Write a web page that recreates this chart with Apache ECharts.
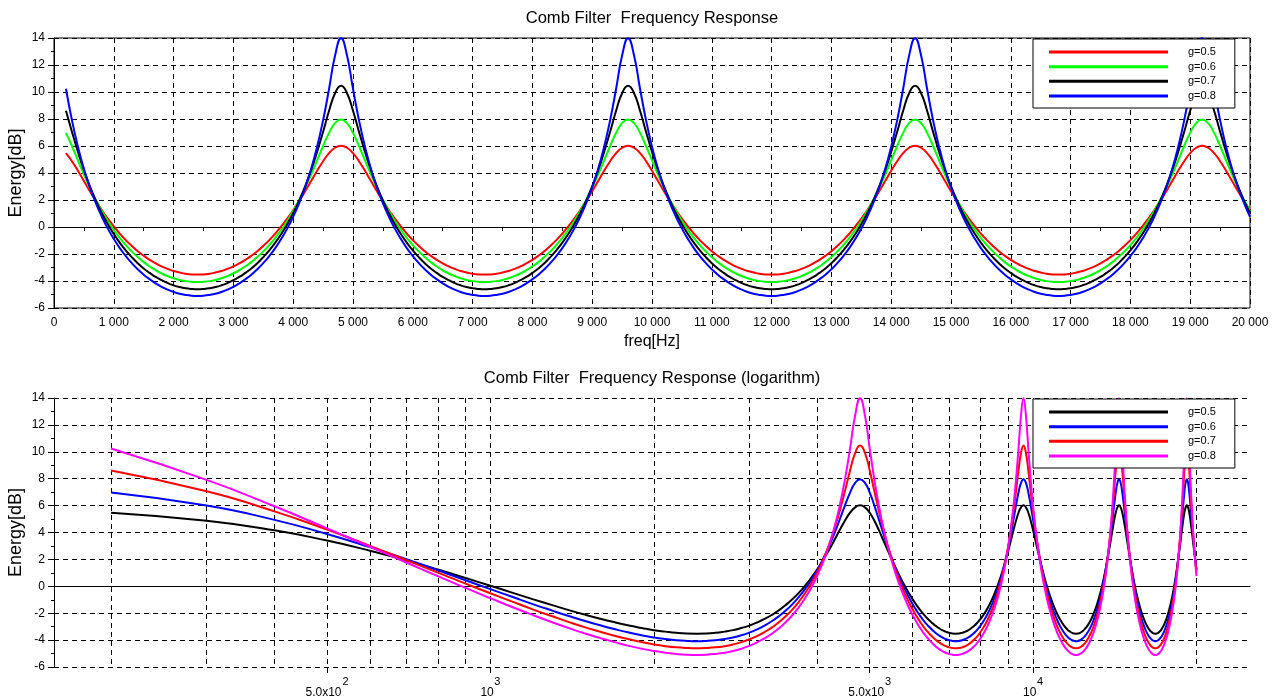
<!DOCTYPE html>
<html>
<head>
<meta charset="utf-8">
<script src="https://cdn.jsdelivr.net/npm/echarts@6.0.0/dist/echarts.min.js"></script>
<style>html,body{margin:0;padding:0;background:#fff}#c{width:1280px;height:696px}</style>
</head>
<body>
<div id="c"></div>
<script>
// ---------- data ----------
const freqs = [
  200,300,400,500,600,700,800,900,1000,1100,
  1200,1300,1400,1500,1600,1700,1800,1900,2000,2100,
  2200,2300,2400,2500,2600,2700,2800,2900,3000,3100,
  3200,3300,3400,3500,3600,3700,3800,3900,4000,4100,
  4200,4300,4400,4500,4600,4700,4800,4900,5000,5100,
  5200,5300,5400,5500,5600,5700,5800,5900,6000,6100,
  6200,6300,6400,6500,6600,6700,6800,6900,7000,7100,
  7200,7300,7400,7500,7600,7700,7800,7900,8000,8100,
  8200,8300,8400,8500,8600,8700,8800,8900,9000,9100,
  9200,9300,9400,9500,9600,9700,9800,9900,10000,10100,
  10200,10300,10400,10500,10600,10700,10800,10900,11000,11100,
  11200,11300,11400,11500,11600,11700,11800,11900,12000,12100,
  12200,12300,12400,12500,12600,12700,12800,12900,13000,13100,
  13200,13300,13400,13500,13600,13700,13800,13900,14000,14100,
  14200,14300,14400,14500,14600,14700,14800,14900,15000,15100,
  15200,15300,15400,15500,15600,15700,15800,15900,16000,16100,
  16200,16300,16400,16500,16600,16700,16800,16900,17000,17100,
  17200,17300,17400,17500,17600,17700,17800,17900,18000,18100,
  18200,18300,18400,18500,18600,18700,18800,18900,19000,19100,
  19200,19300,19400,19500,19600,19700,19800,19900,20000
];

const g05 = [
  5.47,4.87,4.16,3.40,2.65,1.93,1.25,0.62,0.04,-0.49,-0.97,-1.40,-1.79,-2.13,-2.43,-2.69,-2.92,-3.10,-3.26,-3.37,-3.46,-3.51,-3.52,
  -3.51,-3.46,-3.37,-3.26,-3.10,-2.92,-2.69,-2.43,-2.13,-1.79,-1.40,-0.97,-0.49,0.04,0.62,1.25,1.93,2.65,3.40,4.16,4.87,5.47,5.87,6.02,
  5.87,5.47,4.87,4.16,3.40,2.65,1.93,1.25,0.62,0.04,-0.49,-0.97,-1.40,-1.79,-2.13,-2.43,-2.69,-2.92,-3.10,-3.26,-3.37,-3.46,-3.51,-3.52,
  -3.51,-3.46,-3.37,-3.26,-3.10,-2.92,-2.69,-2.43,-2.13,-1.79,-1.40,-0.97,-0.49,0.04,0.62,1.25,1.93,2.65,3.40,4.16,4.87,5.47,5.87,6.02,
  5.87,5.47,4.87,4.16,3.40,2.65,1.93,1.25,0.62,0.04,-0.49,-0.97,-1.40,-1.79,-2.13,-2.43,-2.69,-2.92,-3.10,-3.26,-3.37,-3.46,-3.51,-3.52,
  -3.51,-3.46,-3.37,-3.26,-3.10,-2.92,-2.69,-2.43,-2.13,-1.79,-1.40,-0.97,-0.49,0.04,0.62,1.25,1.93,2.65,3.40,4.16,4.87,5.47,5.87,6.02,
  5.87,5.47,4.87,4.16,3.40,2.65,1.93,1.25,0.62,0.04,-0.49,-0.97,-1.40,-1.79,-2.13,-2.43,-2.69,-2.92,-3.10,-3.26,-3.37,-3.46,-3.51,-3.52,
  -3.51,-3.46,-3.37,-3.26,-3.10,-2.92,-2.69,-2.43,-2.13,-1.79,-1.40,-0.97,-0.49,0.04,0.62,1.25,1.93,2.65,3.40,4.16,4.87,5.47,5.87,6.02,
  5.87,5.47,4.87,4.16,3.40,2.65,1.93,1.25
];

const g06 = [
  6.97,6.00,4.94,3.89,2.91,2.01,1.19,0.45,-0.21,-0.80,-1.34,-1.81,-2.23,-2.60,-2.92,-3.20,-3.44,-3.64,-3.80,-3.92,-4.01,-4.06,-4.08,
  -4.06,-4.01,-3.92,-3.80,-3.64,-3.44,-3.20,-2.92,-2.60,-2.23,-1.81,-1.34,-0.80,-0.21,0.45,1.19,2.01,2.91,3.89,4.94,6.00,6.97,7.69,7.96,
  7.69,6.97,6.00,4.94,3.89,2.91,2.01,1.19,0.45,-0.21,-0.80,-1.34,-1.81,-2.23,-2.60,-2.92,-3.20,-3.44,-3.64,-3.80,-3.92,-4.01,-4.06,-4.08,
  -4.06,-4.01,-3.92,-3.80,-3.64,-3.44,-3.20,-2.92,-2.60,-2.23,-1.81,-1.34,-0.80,-0.21,0.45,1.19,2.01,2.91,3.89,4.94,6.00,6.97,7.69,7.96,
  7.69,6.97,6.00,4.94,3.89,2.91,2.01,1.19,0.45,-0.21,-0.80,-1.34,-1.81,-2.23,-2.60,-2.92,-3.20,-3.44,-3.64,-3.80,-3.92,-4.01,-4.06,-4.08,
  -4.06,-4.01,-3.92,-3.80,-3.64,-3.44,-3.20,-2.92,-2.60,-2.23,-1.81,-1.34,-0.80,-0.21,0.45,1.19,2.01,2.91,3.89,4.94,6.00,6.97,7.69,7.96,
  7.69,6.97,6.00,4.94,3.89,2.91,2.01,1.19,0.45,-0.21,-0.80,-1.34,-1.81,-2.23,-2.60,-2.92,-3.20,-3.44,-3.64,-3.80,-3.92,-4.01,-4.06,-4.08,
  -4.06,-4.01,-3.92,-3.80,-3.64,-3.44,-3.20,-2.92,-2.60,-2.23,-1.81,-1.34,-0.80,-0.21,0.45,1.19,2.01,2.91,3.89,4.94,6.00,6.97,7.69,7.96,
  7.69,6.97,6.00,4.94,3.89,2.91,2.01,1.19
];

const g07 = [
  8.61,7.06,5.57,4.21,3.01,1.95,1.02,0.20,-0.52,-1.16,-1.73,-2.23,-2.68,-3.07,-3.40,-3.70,-3.94,-4.15,-4.32,-4.45,-4.54,-4.59,-4.61,
  -4.59,-4.54,-4.45,-4.32,-4.15,-3.94,-3.70,-3.40,-3.07,-2.68,-2.23,-1.73,-1.16,-0.52,0.20,1.02,1.95,3.01,4.21,5.57,7.06,8.61,9.91,10.46,
  9.91,8.61,7.06,5.57,4.21,3.01,1.95,1.02,0.20,-0.52,-1.16,-1.73,-2.23,-2.68,-3.07,-3.40,-3.70,-3.94,-4.15,-4.32,-4.45,-4.54,-4.59,-4.61,
  -4.59,-4.54,-4.45,-4.32,-4.15,-3.94,-3.70,-3.40,-3.07,-2.68,-2.23,-1.73,-1.16,-0.52,0.20,1.02,1.95,3.01,4.21,5.57,7.06,8.61,9.91,10.46,
  9.91,8.61,7.06,5.57,4.21,3.01,1.95,1.02,0.20,-0.52,-1.16,-1.73,-2.23,-2.68,-3.07,-3.40,-3.70,-3.94,-4.15,-4.32,-4.45,-4.54,-4.59,-4.61,
  -4.59,-4.54,-4.45,-4.32,-4.15,-3.94,-3.70,-3.40,-3.07,-2.68,-2.23,-1.73,-1.16,-0.52,0.20,1.02,1.95,3.01,4.21,5.57,7.06,8.61,9.91,10.46,
  9.91,8.61,7.06,5.57,4.21,3.01,1.95,1.02,0.20,-0.52,-1.16,-1.73,-2.23,-2.68,-3.07,-3.40,-3.70,-3.94,-4.15,-4.32,-4.45,-4.54,-4.59,-4.61,
  -4.59,-4.54,-4.45,-4.32,-4.15,-3.94,-3.70,-3.40,-3.07,-2.68,-2.23,-1.73,-1.16,-0.52,0.20,1.02,1.95,3.01,4.21,5.57,7.06,8.61,9.91,10.46,
  9.91,8.61,7.06,5.57,4.21,3.01,1.95,1.02
];

const g08 = [
  10.24,7.91,5.95,4.31,2.94,1.77,0.76,-0.12,-0.88,-1.56,-2.15,-2.67,-3.13,-3.53,-3.87,-4.17,-4.43,-4.64,-4.81,-4.94,-5.03,-5.09,-5.11,
  -5.09,-5.03,-4.94,-4.81,-4.64,-4.43,-4.17,-3.87,-3.53,-3.13,-2.67,-2.15,-1.56,-0.88,-0.12,0.76,1.77,2.94,4.31,5.95,7.91,10.24,12.70,13.98,
  12.70,10.24,7.91,5.95,4.31,2.94,1.77,0.76,-0.12,-0.88,-1.56,-2.15,-2.67,-3.13,-3.53,-3.87,-4.17,-4.43,-4.64,-4.81,-4.94,-5.03,-5.09,-5.11,
  -5.09,-5.03,-4.94,-4.81,-4.64,-4.43,-4.17,-3.87,-3.53,-3.13,-2.67,-2.15,-1.56,-0.88,-0.12,0.76,1.77,2.94,4.31,5.95,7.91,10.24,12.70,13.98,
  12.70,10.24,7.91,5.95,4.31,2.94,1.77,0.76,-0.12,-0.88,-1.56,-2.15,-2.67,-3.13,-3.53,-3.87,-4.17,-4.43,-4.64,-4.81,-4.94,-5.03,-5.09,-5.11,
  -5.09,-5.03,-4.94,-4.81,-4.64,-4.43,-4.17,-3.87,-3.53,-3.13,-2.67,-2.15,-1.56,-0.88,-0.12,0.76,1.77,2.94,4.31,5.95,7.91,10.24,12.70,13.98,
  12.70,10.24,7.91,5.95,4.31,2.94,1.77,0.76,-0.12,-0.88,-1.56,-2.15,-2.67,-3.13,-3.53,-3.87,-4.17,-4.43,-4.64,-4.81,-4.94,-5.03,-5.09,-5.11,
  -5.09,-5.03,-4.94,-4.81,-4.64,-4.43,-4.17,-3.87,-3.53,-3.13,-2.67,-2.15,-1.56,-0.88,-0.12,0.76,1.77,2.94,4.31,5.95,7.91,10.24,12.70,13.98,
  12.70,10.24,7.91,5.95,4.31,2.94,1.77,0.76
];

const seriesNames = ['g=0.5', 'g=0.6', 'g=0.7', 'g=0.8'];
const linearColors = ['#ff0000', '#00ff00', '#000000', '#0000ff'];
const logColors = ['#000000', '#0000ff', '#ff0000', '#ff00ff'];

const titles = ['Comb Filter  Frequency Response', 'Comb Filter  Frequency Response (logarithm)'];
const xName = 'freq[Hz]';
const yName = 'Energy[dB]';

// tick values
const logGridValues = [200,300,400,500,600,700,800,900,1000,2000,3000,4000,5000,6000,7000,8000,9000,10000,20000];
const logLabelValues = [500, 1000, 5000, 10000];
const logLabelMantissa = ['5.0x10', '10', '5.0x10', '10'];
const logLabelExponent = ['2', '3', '3', '4'];

// ---------- chart ----------
const FONT = "'Liberation Sans', Arial, Helvetica, sans-serif";
const valueLists = [g05, g06, g07, g08];
const toPairs = vals => freqs.map((f, i) => [f, vals[i]]);
const dash = { color: '#000', width: 1, type: [5, 4] };
const axisLineStyle = { lineStyle: { color: '#000', width: 1 } };
const labelStyle = { color: '#000', fontSize: 12, fontFamily: FONT };

function yAxisCfg(gridIndex) {
  return {
    gridIndex, type: 'value', min: -6, max: 14, interval: 2,
    name: yName, nameLocation: 'middle', nameGap: 29, nameRotate: 90, nameMoveOverlap: false,
    nameTextStyle: { fontSize: 18, color: '#000', fontFamily: FONT },
    axisLine: { show: true, lineStyle: { color: '#000', width: 1 } },
    axisTick: { show: true, length: 6, lineStyle: { color: '#000' } },
    minorTick: { show: true, splitNumber: 2, length: 3, lineStyle: { color: '#000' } },
    axisLabel: Object.assign({ margin: 9 }, labelStyle),
    splitLine: { show: true, lineStyle: dash }
  };
}

function logLabelFormatter(v) {
  const idx = logLabelValues.findIndex(t => Math.abs(t - v) / t < 1e-6);
  if (idx < 0) return '';
  const wide = logLabelMantissa[idx].length > 2;
  return '{' + (wide ? 'ew' : 'en') + '|' + logLabelExponent[idx] + '}\n{' +
         (wide ? 'mw' : 'mn') + '|' + logLabelMantissa[idx] + '}';
}

const series = [];
valueLists.forEach((vals, i) => {
  series.push({
    type: 'line', name: seriesNames[i], xAxisIndex: 0, yAxisIndex: 0,
    data: toPairs(vals), showSymbol: false, smooth: true,
    lineStyle: { width: 2, color: linearColors[i] }, itemStyle: { color: linearColors[i] },
    emphasis: { disabled: true }
  });
});
valueLists.forEach((vals, i) => {
  series.push({
    type: 'line', name: 'log:' + seriesNames[i], xAxisIndex: 1, yAxisIndex: 1,
    data: toPairs(vals), showSymbol: false, smooth: true,
    lineStyle: { width: 2, color: logColors[i] }, itemStyle: { color: logColors[i] },
    emphasis: { disabled: true }
  });
});

const legendBase = {
  orient: 'vertical', left: 1033, icon: 'rect', itemWidth: 119, itemHeight: 3, itemGap: 0.67,
  padding: [6, 19, 5, 16], borderColor: '#000', borderWidth: 1, backgroundColor: '#fff',
  textStyle: { fontSize: 11, color: '#000', fontFamily: FONT, lineHeight: 14, padding: [0, 0, 0, 15] },
  selectedMode: false, z: 20
};

const option = {
  animation: false,
  backgroundColor: '#fff',
  title: titles.map((t, i) => ({
    text: t, left: 652, top: i === 0 ? 10 : 370, textAlign: 'center', padding: 0,
    textStyle: { fontSize: 16.6, fontWeight: 'normal', color: '#000', fontFamily: FONT }
  })),
  legend: [
    Object.assign({}, legendBase, { top: 39, data: seriesNames.slice() }),
    Object.assign({}, legendBase, { top: 399, data: seriesNames.map(n => 'log:' + n), formatter: n => n.slice(4) })
  ],
  grid: [
    { left: 54, top: 38, width: 1196, height: 270, show: true, borderColor: '#000', borderWidth: 1, backgroundColor: 'transparent', containLabel: false, outerBoundsMode: 'none' },
    { left: 54, top: 398, width: 1196, height: 269, show: false, containLabel: false, outerBoundsMode: 'none' }
  ],
  xAxis: [
    {
      gridIndex: 0, type: 'value', min: 0, max: 20000, interval: 1000,
      name: xName, nameLocation: 'middle', nameGap: 26, nameMoveOverlap: false,
      nameTextStyle: { fontSize: 16, color: '#000', fontFamily: FONT },
      axisLine: axisLineStyle,
      axisTick: { show: true, length: 7, lineStyle: { color: '#000' } },
      minorTick: { show: true, splitNumber: 2, length: 4, lineStyle: { color: '#000' } },
      axisLabel: Object.assign({ margin: 9, formatter: v => String(v).replace(/\B(?=(\d{3})+(?!\d))/g, ' ') }, labelStyle),
      splitLine: { show: true, lineStyle: dash }
    },
    {
      gridIndex: 1, type: 'log', logBase: 10, min: 157, max: 25100, position: 'bottom',
      axisLine: axisLineStyle,
      axisTick: { show: true, length: 3, customValues: logGridValues, lineStyle: { color: '#000' } },
      axisLabel: { show: false },
      splitLine: { show: true, lineStyle: dash }
    },
    {
      gridIndex: 1, type: 'log', logBase: 10, min: 157, max: 25100, position: 'bottom', offset: 0,
      axisLine: { show: false },
      axisTick: { show: true, length: 6, customValues: logLabelValues, lineStyle: { color: '#000' } },
      axisLabel: {
        show: true, margin: 10, customValues: logLabelValues, formatter: logLabelFormatter,
        color: '#000', fontFamily: FONT,
        rich: {
          ew: { fontSize: 11, color: '#000', fontFamily: FONT, lineHeight: 9, width: 43, align: 'right' },
          en: { fontSize: 11, color: '#000', fontFamily: FONT, lineHeight: 9, width: 20, align: 'right' },
          mw: { fontSize: 12, color: '#000', fontFamily: FONT, lineHeight: 14, width: 43, align: 'left' },
          mn: { fontSize: 12, color: '#000', fontFamily: FONT, lineHeight: 14, width: 20, align: 'left' }
        }
      },
      splitLine: { show: false }
    }
  ],
  yAxis: [yAxisCfg(0), yAxisCfg(1)],
  series
};

const chart = echarts.init(document.getElementById('c'), null, { renderer: 'canvas', width: 1280, height: 696 });
chart.setOption(option);
</script>
</body>
</html>
